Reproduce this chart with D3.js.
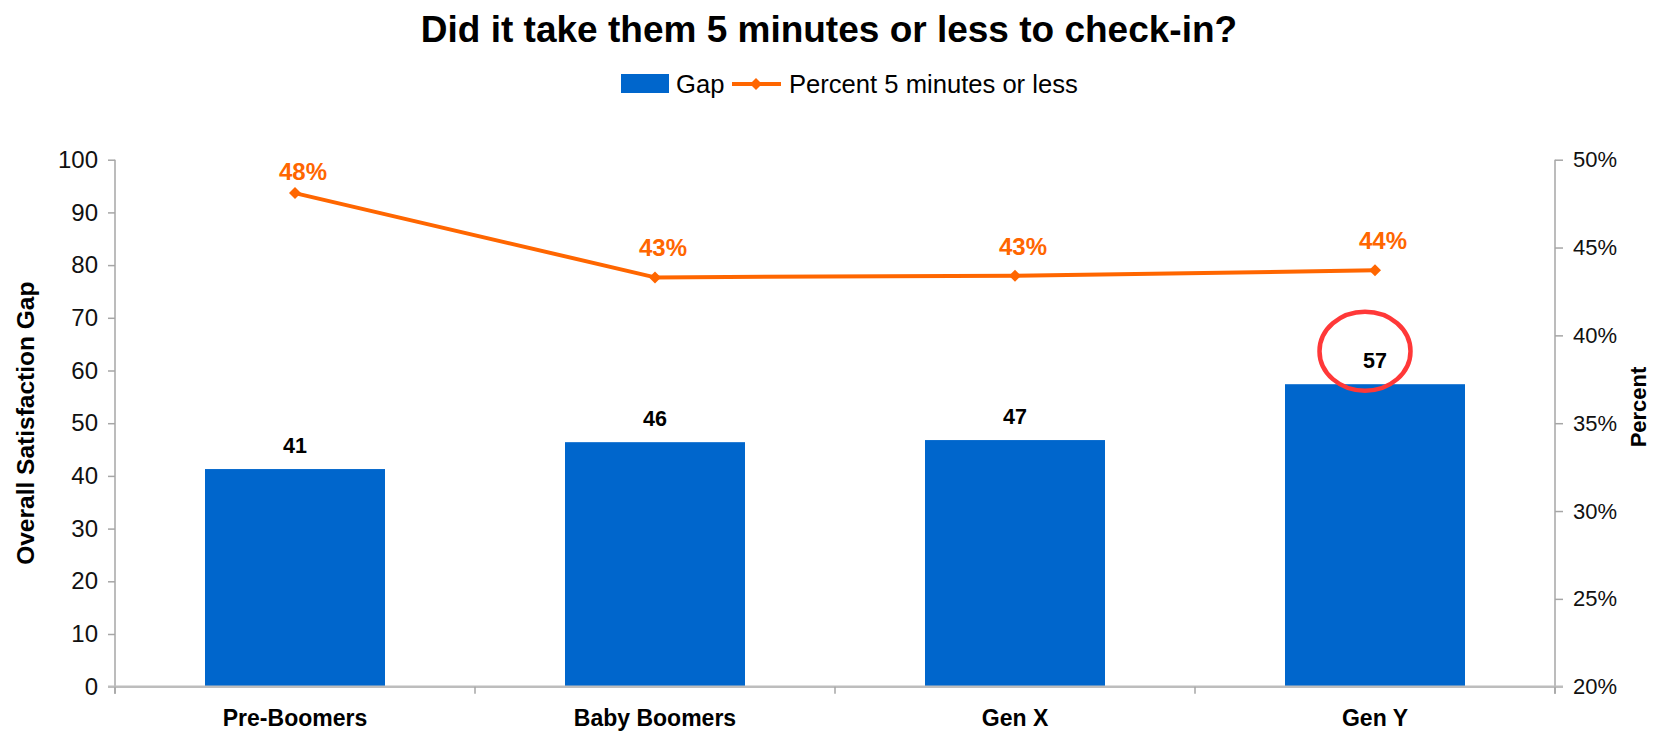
<!DOCTYPE html>
<html>
<head>
<meta charset="utf-8">
<script src="https://cdn.jsdelivr.net/npm/d3@7"></script>
<style>
  html, body { margin: 0; padding: 0; background: #fff; }
  svg { display: block; font-family: "Liberation Sans", Arial, sans-serif; }
</style>
</head>
<body>
<svg id="chart" width="1658" height="732"></svg>
<script>
// Check-in time by generation: satisfaction gap (bars) and share checked in within 5 minutes (line)
const categories = ["Pre-Boomers", "Baby Boomers", "Gen X", "Gen Y"];
const gapValues = [41.3, 46.4, 46.8, 57.4];
const percentValues = [0.481, 0.433, 0.434, 0.437];
const leftTicks = [0, 10, 20, 30, 40, 50, 60, 70, 80, 90, 100];
const rightTicks = [0.20, 0.25, 0.30, 0.35, 0.40, 0.45, 0.50];
const highlighted = "Gen Y";

const W = 1658, H = 732;
const margin = { top: 159.7, right: 103, bottom: 45.3, left: 115 };
const innerW = W - margin.left - margin.right;
const innerH = H - margin.top - margin.bottom;

const BAR = "#0066CC", LINE = "#FF6600", AXIS = "#A6A6A6", RING = "#FF3838";
const NARROW = "'Liberation Sans Narrow', 'Arial Narrow', 'Liberation Sans', sans-serif";

const svg = d3.select("#chart");

// Title
svg.append("text")
  .attr("x", 829).attr("y", 42)
  .attr("text-anchor", "middle")
  .attr("font-size", 37).attr("font-weight", "bold").attr("fill", "#000")
  .text("Did it take them 5 minutes or less to check-in?");

// Legend
const legend = svg.append("g");
legend.append("rect").attr("x", 621).attr("y", 74).attr("width", 48).attr("height", 19).attr("fill", BAR);
legend.append("text").attr("x", 676).attr("y", 93).attr("font-size", 25.6).attr("fill", "#000").text("Gap");
legend.append("line").attr("x1", 732).attr("x2", 781).attr("y1", 84).attr("y2", 84)
  .attr("stroke", LINE).attr("stroke-width", 4);
legend.append("path").attr("d", d3.symbol(d3.symbolSquare, 72)())
  .attr("transform", "translate(756,84) rotate(45)").attr("fill", LINE);
legend.append("text").attr("x", 789).attr("y", 93).attr("font-size", 25.6).attr("fill", "#000")
  .text("Percent 5 minutes or less");

const g = svg.append("g").attr("transform", `translate(${margin.left},${margin.top})`);

// Scales
const x = d3.scaleBand().domain(categories).range([0, innerW]).paddingInner(0.5).paddingOuter(0.25);
const yL = d3.scaleLinear().domain([0, 100]).range([innerH, 0]);
const yR = d3.scaleLinear().domain([0.20, 0.50]).range([innerH, 0]);
const step = x.step();

// Bars
g.selectAll("rect.bar").data(categories).join("rect")
  .attr("class", "bar")
  .attr("x", d => x(d))
  .attr("width", x.bandwidth())
  .attr("y", (d, i) => yL(gapValues[i]))
  .attr("height", (d, i) => innerH - yL(gapValues[i]))
  .attr("fill", BAR);

// Bar value labels
g.selectAll("text.barlabel").data(categories).join("text")
  .attr("class", "barlabel")
  .attr("x", d => x(d) + x.bandwidth() / 2)
  .attr("y", (d, i) => yL(gapValues[i]) - 16)
  .attr("text-anchor", "middle")
  .attr("font-size", 21.5).attr("font-weight", "bold").attr("fill", "#000")
  .text((d, i) => d3.format(".0f")(gapValues[i]));

// Left axis
const leftAxis = g.append("g").call(d3.axisLeft(yL).tickValues(leftTicks).tickSizeOuter(0).tickSize(7).tickPadding(10));
leftAxis.select(".domain").remove();
leftAxis.append("line").attr("x1", 0).attr("x2", 0).attr("y1", 0).attr("y2", innerH + 7).attr("stroke", AXIS).attr("stroke-width", 1.5);
leftAxis.selectAll(".tick line").attr("stroke", AXIS).attr("stroke-width", 1.5);
leftAxis.selectAll(".tick text").attr("font-size", 24).attr("fill", "#111").attr("font-family", "Liberation Sans, Arial, sans-serif");

// Right axis
const rightAxis = g.append("g").attr("transform", `translate(${innerW},0)`)
  .call(d3.axisRight(yR).tickValues(rightTicks).tickFormat(d3.format(".0%")).tickSize(8).tickPadding(10));
rightAxis.select(".domain").remove();
rightAxis.append("line").attr("x1", 0).attr("x2", 0).attr("y1", 0).attr("y2", innerH + 7).attr("stroke", AXIS).attr("stroke-width", 1.5);
rightAxis.selectAll(".tick line").attr("stroke", AXIS).attr("stroke-width", 1.5);
rightAxis.selectAll(".tick text").attr("font-size", 22).attr("fill", "#111").attr("font-family", NARROW);

// Category axis
const bottom = g.append("g").attr("transform", `translate(0,${innerH})`);
bottom.append("line").attr("x1", -7).attr("x2", innerW + 8).attr("y1", 0).attr("y2", 0)
  .attr("stroke", "#BDBDBD").attr("stroke-width", 2.5);
const bounds = d3.range(categories.length + 1).map(i => i * step);
bottom.selectAll("line.sep").data(bounds).join("line")
  .attr("class", "sep")
  .attr("x1", d => d).attr("x2", d => d).attr("y1", 0).attr("y2", 7)
  .attr("stroke", AXIS).attr("stroke-width", 1.5);
bottom.selectAll("text.cat").data(categories).join("text")
  .attr("class", "cat")
  .attr("x", d => x(d) + x.bandwidth() / 2)
  .attr("y", 39)
  .attr("text-anchor", "middle")
  .attr("font-size", 23).attr("font-weight", "bold").attr("fill", "#000")
  .text(d => d);

// Line series
const cx = d => x(d) + x.bandwidth() / 2;
const line = d3.line().x(d => cx(d)).y((d, i) => yR(percentValues[i]));
g.append("path").datum(categories)
  .attr("d", line)
  .attr("fill", "none").attr("stroke", LINE).attr("stroke-width", 4).attr("stroke-linejoin", "round");
g.selectAll("path.marker").data(categories).join("path")
  .attr("class", "marker")
  .attr("d", d3.symbol(d3.symbolSquare, 72)())
  .attr("transform", (d, i) => `translate(${cx(d)},${yR(percentValues[i])}) rotate(45)`)
  .attr("fill", LINE);
// Labels sit above each point but are kept inside the plot area
g.selectAll("text.pctlabel").data(categories).join("text")
  .attr("class", "pctlabel")
  .attr("x", d => cx(d) + 8)
  .attr("y", (d, i) => Math.max(yR(percentValues[i]) - 21, 20))
  .attr("text-anchor", "middle")
  .attr("font-size", 24).attr("font-weight", "bold").attr("fill", LINE)
  .text((d, i) => d3.format(".0%")(percentValues[i]));

// Highlight ring around the largest gap label
const hi = categories.indexOf(highlighted);
g.append("ellipse")
  .attr("cx", cx(highlighted) - 10)
  .attr("cy", yL(gapValues[hi]) - 33)
  .attr("rx", 45.5).attr("ry", 39.5)
  .attr("fill", "none").attr("stroke", RING).attr("stroke-width", 4.5);

// Axis titles
svg.append("text")
  .attr("transform", `translate(34,${margin.top + innerH / 2}) rotate(-90)`)
  .attr("text-anchor", "middle")
  .attr("font-size", 24.5).attr("font-weight", "bold").attr("fill", "#000")
  .text("Overall Satisfaction Gap");
svg.append("text")
  .attr("transform", `translate(1646,407) rotate(-90)`)
  .attr("text-anchor", "middle")
  .attr("font-size", 22).attr("font-weight", "bold").attr("fill", "#000")
  .attr("font-family", NARROW)
  .text("Percent");
</script>
</body>
</html>
